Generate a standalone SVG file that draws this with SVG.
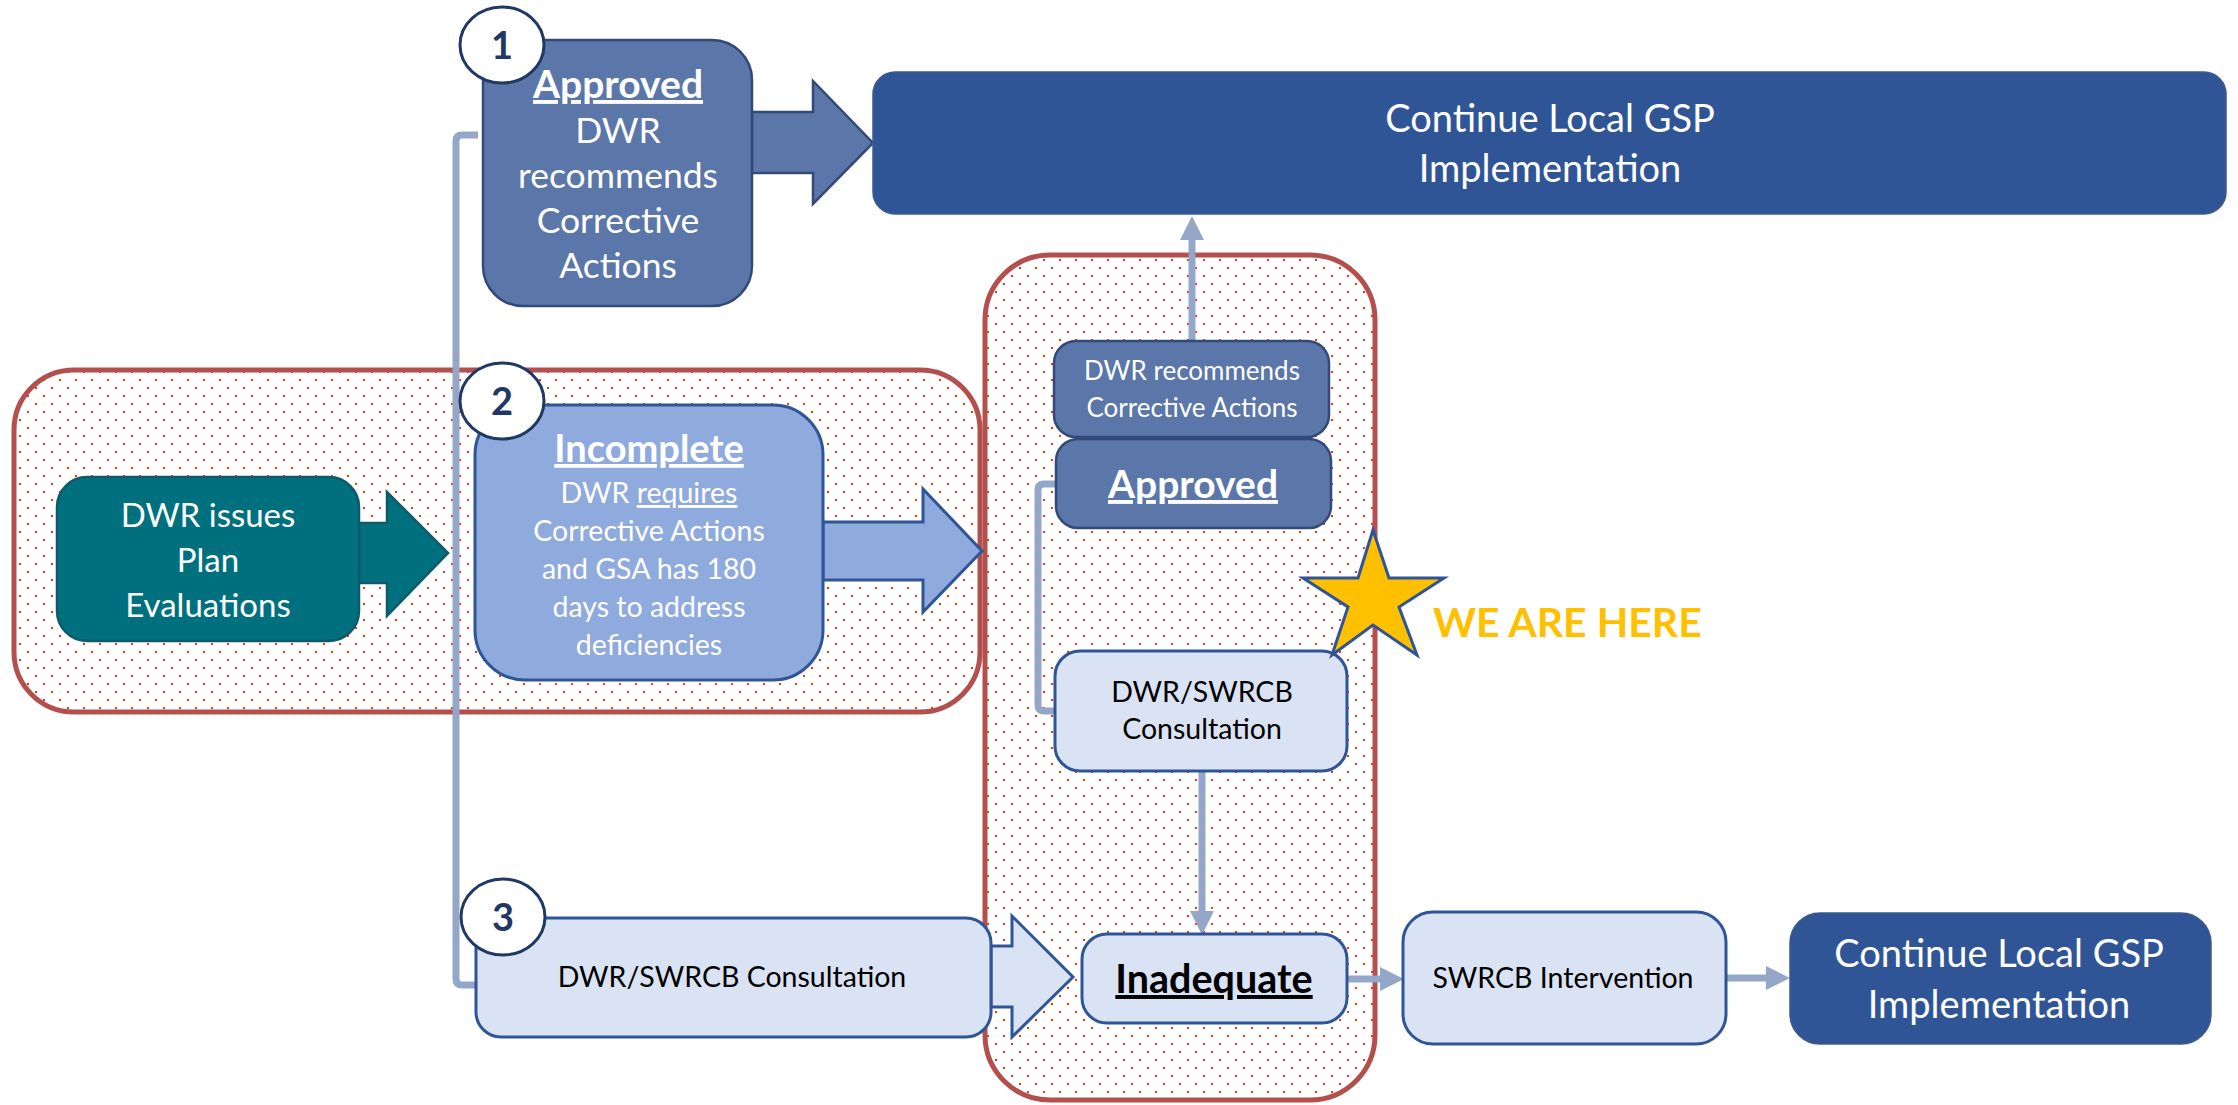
<svg xmlns="http://www.w3.org/2000/svg" width="2238" height="1105" viewBox="0 0 2238 1105">
<defs>
<pattern id="dots" width="16" height="16" patternUnits="userSpaceOnUse">
<rect width="16" height="16" fill="#ffffff"/>
<rect x="3" y="3" width="2" height="2" fill="#FF3300"/>
<rect x="11" y="11" width="2" height="2" fill="#FF3300"/>
</pattern>
<marker id="head" viewBox="0 0 24 24" markerWidth="24" markerHeight="24" refX="0" refY="12" orient="auto" markerUnits="userSpaceOnUse">
<path d="M0,0 L24,12 L0,24 z" fill="#94A7C9"/>
</marker>
<style>
text{font-family:Lato,"Liberation Sans",sans-serif;text-anchor:middle}
.w{fill:#ffffff}
.k{fill:#000000}
.b{font-weight:bold}
.u{text-decoration:underline}
.region{fill:url(#dots);stroke:#B3504E;stroke-width:5}
.dark{fill:#5B76A8;stroke:#33497A;stroke-width:2.5}
.navy{fill:#2F5597;stroke:#3F5A8E;stroke-width:1.5}
.light{fill:#DAE3F3;stroke:#2F5597;stroke-width:3}
.mid{fill:#8FAADC;stroke:#2F5597;stroke-width:3}
.teal{fill:#00707F;stroke:#0E5A6B;stroke-width:2.5}
.conn{fill:none;stroke:#94A7C9;stroke-width:7}
.num{fill:#ffffff;stroke:#1F3864;stroke-width:3}
.numt{fill:#1F3864;font-weight:bold;font-size:38px}
</style>
</defs>

<g id="regions">
<rect id="region-left" class="region" x="14" y="370" width="966" height="342" rx="60"/>
<rect id="region-mid" class="region" x="985" y="255" width="390" height="845" rx="65"/>
</g>

<g id="connectors">
<path class="conn" d="M478,135 H462 Q456,135 456,141 V979 Q456,985 462,985 H477"/>
<path class="conn" d="M1056,484 H1044 Q1038,484 1038,490 V705 Q1038,711 1044,711 H1056"/>
<line class="conn" x1="1192" y1="341" x2="1192" y2="240" stroke-width="8" marker-end="url(#head)"/>
<line class="conn" x1="1202" y1="771" x2="1202" y2="911" stroke-width="8" marker-end="url(#head)"/>
<line class="conn" x1="1347" y1="979" x2="1380" y2="979" stroke-width="8" marker-end="url(#head)"/>
<line class="conn" x1="1726" y1="978" x2="1766" y2="978" stroke-width="8" marker-end="url(#head)"/>
<polygon class="dark" points="752,112 813,112 813,81 873,143 813,204 813,173 752,173"/>
<polygon class="teal" points="359,523 387,523 387,492 448,553 387,616 387,583 359,583"/>
<polygon class="mid" points="823,522 923,522 923,489 982,551 923,612 923,580 823,580"/>
<polygon class="light" points="991,946 1012,946 1012,916 1073,977 1012,1037 1012,1007 991,1007"/>
</g>

<g id="node-approved-1">
<rect class="dark" x="483" y="40" width="269" height="266" rx="40"/>
<text class="w b u" x="618" y="98" font-size="39">Approved</text>
<text class="w" x="618" y="143" font-size="35.5">DWR</text>
<text class="w" x="618" y="188" font-size="35.5">recommends</text>
<text class="w" x="618" y="233" font-size="35.5">Corrective</text>
<text class="w" x="618" y="278" font-size="35.5">Actions</text>
</g>
<g id="badge-1">
<ellipse class="num" cx="502" cy="45" rx="42" ry="38"/>
<text class="numt" x="502" y="59">1</text>
</g>

<g id="node-continue-top">
<rect class="navy" x="873" y="72" width="1353" height="142" rx="22"/>
<text class="w" x="1550" y="132" font-size="38">Continue Local GSP</text>
<text class="w" x="1550" y="182" font-size="38">Implementation</text>
</g>

<g id="node-dwr-issues">
<rect class="teal" x="57" y="477" width="302" height="164" rx="30"/>
<text class="w" x="208" y="527" font-size="33">DWR issues</text>
<text class="w" x="208" y="572" font-size="33">Plan</text>
<text class="w" x="208" y="617" font-size="33">Evaluations</text>
</g>

<g id="node-incomplete">
<rect class="mid" x="475" y="405" width="348" height="275" rx="50"/>
<text class="w b u" x="649" y="462" font-size="38">Incomplete</text>
<text class="w" x="649" y="503" font-size="28.5">DWR <tspan class="u">requires</tspan></text>
<text class="w" x="649" y="541" font-size="28.5">Corrective Actions</text>
<text class="w" x="649" y="579" font-size="28.5">and GSA has 180</text>
<text class="w" x="649" y="617" font-size="28.5">days to address</text>
<text class="w" x="649" y="655" font-size="28.5">deficiencies</text>
</g>
<g id="badge-2">
<ellipse class="num" cx="502" cy="401" rx="42" ry="38"/>
<text class="numt" x="502" y="415">2</text>
</g>

<g id="node-mid-recommends">
<rect class="dark" x="1054" y="341" width="275" height="96" rx="22"/>
<text class="w" x="1192" y="380" font-size="26">DWR recommends</text>
<text class="w" x="1192" y="417" font-size="26">Corrective Actions</text>
</g>
<g id="node-mid-approved">
<rect class="dark" x="1056" y="439" width="275" height="89" rx="22"/>
<text class="w b u" x="1193" y="498" font-size="39">Approved</text>
</g>
<g id="node-mid-consultation">
<rect class="light" x="1055" y="651" width="292" height="120" rx="25"/>
<text class="k" x="1202" y="702" font-size="28.5">DWR/SWRCB</text>
<text class="k" x="1202" y="739" font-size="28.5">Consultation</text>
</g>
<g id="node-inadequate">
<rect class="light" x="1082" y="934" width="265" height="89" rx="25"/>
<text class="k b u" x="1214" y="993" font-size="39.5">Inadequate</text>
</g>

<g id="node-consultation-3">
<rect class="light" x="476" y="918" width="515" height="119" rx="25"/>
<text class="k" x="732" y="987" font-size="28.5">DWR/SWRCB Consultation</text>
</g>
<g id="badge-3">
<ellipse class="num" cx="503" cy="917" rx="42" ry="38"/>
<text class="numt" x="503" y="931">3</text>
</g>

<g id="node-swrcb">
<rect class="light" x="1403" y="912" width="323" height="132" rx="30"/>
<text class="k" x="1563" y="988" font-size="28.5">SWRCB Intervention</text>
</g>
<g id="node-continue-bottom">
<rect class="navy" x="1790" y="913" width="421" height="131" rx="30"/>
<text class="w" x="1999" y="967" font-size="38">Continue Local GSP</text>
<text class="w" x="1999" y="1018" font-size="38">Implementation</text>
</g>

<g id="marker-here">
<polygon points="1373,530 1389,578 1444,578 1399,607 1417,655 1373,625 1332,655 1348,607 1303,578 1358,578" fill="#FFC000" stroke="#2F5597" stroke-width="3" stroke-linejoin="miter"/>
<text x="1433" y="637" font-size="41" font-weight="bold" fill="#FFC000" style="text-anchor:start">WE ARE HERE</text>
</g>
</svg>
